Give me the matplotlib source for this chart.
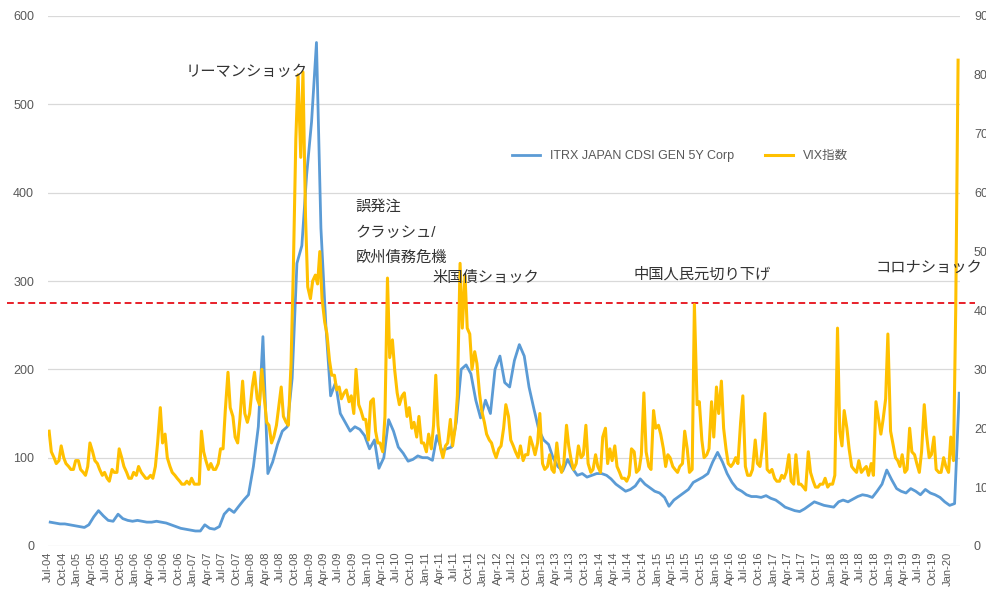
import matplotlib
matplotlib.use("Agg")
from matplotlib import pyplot as plt
import matplotlib.dates as mdates
import pandas as pd
import numpy as np

plt.rcParams['font.family'] = ['Liberation Sans', 'Noto Sans CJK JP', 'DejaVu Sans']

# VIX index, two readings per month (first half / second half), Jul-04 .. Mar-20
vix_2004 = [19.5, 16.0, 15.0, 14.0, 14.5, 17.0, 15.0, 14.0, 13.5, 13.0, 13.0, 14.5]
vix_2005 = [14.5, 13.0, 12.5, 12.0, 13.5, 17.5, 16.0, 14.5, 14.0, 13.0, 12.0, 12.5,
            11.5, 11.0, 13.0, 12.5, 12.5, 16.5, 15.0, 13.5, 12.5, 11.5, 11.5, 12.5]
vix_2006 = [12.0, 13.5, 12.5, 12.0, 11.5, 11.5, 12.0, 11.5, 13.5, 17.5, 23.5, 17.5,
            19.0, 15.0, 13.5, 12.5, 12.0, 11.5, 11.0, 10.5, 10.5, 11.0, 10.5, 11.5]
vix_2007 = [10.5, 10.5, 10.5, 19.5, 16.0, 14.5, 13.0, 14.0, 13.0, 13.0, 14.0, 16.5,
            16.5, 23.0, 29.5, 23.5, 22.0, 18.5, 17.5, 21.5, 28.0, 22.5, 21.0, 22.5]
vix_2008 = [27.0, 29.5, 25.0, 24.0, 30.0, 25.5, 21.0, 20.5, 17.5, 18.5, 20.5, 23.5,
            27.0, 22.0, 21.0, 20.5, 31.0, 46.5, 69.0, 80.0, 66.0, 80.5, 56.0, 44.0]
vix_2009 = [42.0, 45.0, 46.0, 44.5, 50.0, 42.0, 38.0, 36.0, 31.5, 29.0, 29.0, 26.5,
            27.0, 25.0, 26.0, 26.5, 24.5, 25.5, 22.5, 30.0, 24.0, 23.0, 21.5, 21.5]
vix_2010 = [18.0, 24.5, 25.0, 19.5, 17.5, 17.5, 16.0, 22.0, 45.5, 32.0, 35.0, 30.0,
            26.0, 24.0, 25.5, 26.0, 22.0, 23.5, 20.0, 21.0, 18.5, 22.0, 17.5, 17.5]
vix_2011 = [16.0, 19.0, 16.5, 20.5, 29.0, 20.5, 16.5, 15.0, 17.0, 17.5, 21.5, 17.0,
            20.0, 25.5, 48.0, 37.0, 46.0, 37.0, 36.0, 30.0, 33.0, 31.0, 26.0, 23.0]
vix_2012 = [21.0, 19.0, 18.0, 17.5, 16.0, 15.0, 16.5, 17.0, 20.0, 24.0, 22.0, 18.0,
            17.0, 16.0, 15.0, 17.0, 14.5, 15.5, 15.5, 18.5, 17.0, 15.5, 17.5, 22.5]
vix_2013 = [14.0, 13.0, 13.5, 15.5, 13.0, 12.5, 17.5, 14.0, 12.5, 14.0, 20.5, 17.0,
            14.5, 13.0, 14.0, 17.0, 15.0, 15.5, 20.5, 14.0, 12.5, 13.0, 15.5, 13.5]
vix_2014 = [12.5, 18.5, 20.0, 14.0, 16.5, 14.5, 17.0, 13.5, 12.5, 11.5, 11.5, 11.0,
            12.0, 16.5, 16.0, 12.5, 13.0, 15.5, 26.0, 16.0, 13.5, 13.0, 23.0, 20.0]
vix_2015 = [20.5, 19.0, 16.5, 13.5, 15.5, 15.0, 13.5, 13.0, 12.5, 13.5, 14.0, 19.5,
            16.5, 12.5, 13.0, 41.0, 24.0, 24.5, 18.0, 15.0, 15.5, 16.5, 24.5, 18.5]
vix_2016 = [27.0, 22.5, 28.0, 20.0, 16.5, 14.0, 13.5, 14.0, 15.0, 14.0, 21.0, 25.5,
            13.5, 12.0, 12.0, 13.0, 18.0, 14.0, 13.5, 16.5, 22.5, 13.0, 12.5, 13.0]
vix_2017 = [11.5, 11.0, 11.0, 12.0, 11.5, 12.5, 15.5, 11.0, 10.5, 15.5, 10.5, 10.5,
            10.0, 9.5, 16.0, 12.5, 11.0, 10.0, 10.0, 10.5, 10.5, 11.5, 10.0, 10.5]
vix_2018 = [10.5, 12.0, 37.0, 19.5, 17.0, 23.0, 20.0, 16.5, 13.5, 13.0, 12.5, 14.5,
            12.5, 13.0, 13.5, 12.0, 14.0, 12.0, 24.5, 22.0, 19.0, 21.5, 25.0, 36.0]
vix_2019 = [19.5, 17.5, 15.0, 14.5, 13.5, 15.5, 12.5, 13.0, 20.0, 16.0, 15.5, 14.0,
            12.5, 16.0, 24.0, 19.0, 15.0, 15.5, 18.5, 13.0, 12.5, 12.5, 15.0, 13.5]
vix_2020 = [12.5, 18.5, 14.5, 40.0, 82.5]

# iTraxx Japan CDS, monthly, Jul-04 .. Mar-20
cds_2004 = [27, 26, 25, 25, 24, 23]
cds_2005 = [22, 21, 24, 33, 40, 34, 29, 28, 36, 31, 29, 28]
cds_2006 = [29, 28, 27, 27, 28, 27, 26, 24, 22, 20, 19, 18]
cds_2007 = [17, 17, 24, 20, 19, 22, 36, 42, 38, 45, 52, 58]
cds_2008 = [90, 135, 237, 82, 95, 115, 130, 135, 190, 320, 340, 420]
cds_2009 = [480, 570, 360, 250, 170, 185, 150, 140, 130, 135, 132, 125]
cds_2010 = [110, 120, 88, 100, 143, 130, 112, 105, 96, 98, 102, 100]
cds_2011 = [100, 97, 125, 108, 110, 112, 140, 200, 205, 195, 165, 145]
cds_2012 = [165, 150, 200, 215, 185, 180, 210, 228, 215, 180, 155, 132]
cds_2013 = [120, 115, 100, 90, 85, 98, 88, 80, 82, 78, 80, 82]
cds_2014 = [82, 80, 76, 70, 66, 62, 64, 68, 76, 70, 66, 62]
cds_2015 = [60, 55, 45, 52, 56, 60, 64, 72, 75, 78, 82, 95]
cds_2016 = [106, 95, 82, 72, 65, 62, 58, 56, 56, 55, 57, 54]
cds_2017 = [52, 48, 44, 42, 40, 39, 42, 46, 50, 48, 46, 45]
cds_2018 = [44, 50, 52, 50, 53, 56, 58, 57, 55, 62, 70, 86]
cds_2019 = [75, 65, 62, 60, 65, 62, 58, 64, 60, 58, 55, 50]
cds_2020 = [46, 48, 173]

vix = (vix_2004 + vix_2005 + vix_2006 + vix_2007 + vix_2008 + vix_2009 + vix_2010
       + vix_2011 + vix_2012 + vix_2013 + vix_2014 + vix_2015 + vix_2016 + vix_2017
       + vix_2018 + vix_2019 + vix_2020)
cds = (cds_2004 + cds_2005 + cds_2006 + cds_2007 + cds_2008 + cds_2009 + cds_2010
       + cds_2011 + cds_2012 + cds_2013 + cds_2014 + cds_2015 + cds_2016 + cds_2017
       + cds_2018 + cds_2019 + cds_2020)

vix_dates = pd.date_range("2004-07-01", periods=len(vix), freq="SMS") + pd.Timedelta(days=7)
cds_dates = pd.date_range("2004-07-01", periods=len(cds), freq="MS") + pd.Timedelta(days=14)

threshold = 275  # red dashed line, left axis

# annotation texts and where they sit (date, left-axis value)
notes = [
    ("リーマンショック", "2006-11-15", 537),
    ("誤発注", "2009-10-20", 384),
    ("クラッシュ/", "2009-10-20", 355),
    ("欧州債務危機", "2009-10-20", 326),
    ("米国債ショック", "2011-02-15", 304),
    ("中国人民元切り下げ", "2014-08-05", 308),
    ("コロナショック", "2018-10-05", 315),
]

blue = "#5B9BD5"
gold = "#FFC000"
gray = "#595959"

fig = plt.figure(figsize=(9.87, 5.92), dpi=100)
ax = fig.add_axes([48 / 987, 1 - 546 / 592, 912 / 987, 530 / 592])
ax2 = ax.twinx()

ax.plot(cds_dates, cds, color=blue, lw=2.0, label="ITRX JAPAN CDSI GEN 5Y Corp")
ax2.plot(vix_dates, vix, color=gold, lw=2.2, label="VIX指数")

ax.set_ylim(0, 600)
ax.set_yticks(np.arange(0, 601, 100))
ax2.set_ylim(0, 90)
ax2.set_yticks(np.arange(0, 91, 10))
ax.set_xlim(pd.Timestamp("2004-07-01"), pd.Timestamp("2020-03-20"))

ax.grid(axis="y", color="#d9d9d9", lw=0.9)
ax.set_axisbelow(True)
for a in (ax, ax2):
    for s in a.spines.values():
        s.set_visible(False)

ax.xaxis.set_major_locator(mdates.MonthLocator(bymonth=[1, 4, 7, 10]))
ax.xaxis.set_major_formatter(mdates.DateFormatter("%b-%y"))
ax.tick_params(axis="x", length=0, pad=4, labelsize=8, labelcolor=gray, rotation=90)
ax.tick_params(axis="y", length=0, pad=10, labelsize=9, labelcolor=gray)
ax2.tick_params(axis="y", length=0, pad=10, labelsize=9, labelcolor=gray)

ax.axhline(threshold, xmin=-0.045, xmax=1.016, color="#e8202a", lw=1.4,
           ls=(0, (3.5, 2)), clip_on=False, zorder=5)

for txt, d, yv in notes:
    ax2.text(pd.Timestamp(d), yv * 90 / 600, txt, fontsize=11, color="#333333",
             va="center", ha="left")

h1, l1 = ax.get_legend_handles_labels()
h2, l2 = ax2.get_legend_handles_labels()
ax2.legend(h1 + h2, l1 + l2, loc="center", bbox_to_anchor=(0.693, 0.735), ncol=2,
           frameon=False, fontsize=9, labelcolor=gray, handlelength=2.2,
           columnspacing=2.5)

fig.savefig("out.png", dpi=100)
